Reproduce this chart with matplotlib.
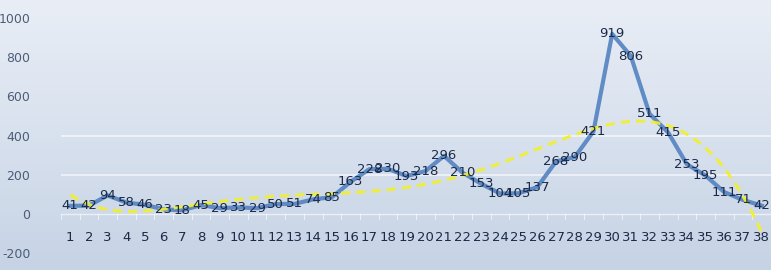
import numpy as np
import matplotlib
matplotlib.use("Agg")
import matplotlib.pyplot as plt

days   = list(range(1, 39))
counts = [41, 42, 94, 58, 46, 23, 18, 45, 29, 33, 29, 50, 51, 74, 85, 163,
          228, 230, 193, 218, 296, 210, 153, 104, 105, 137, 268, 290, 421,
          919, 806, 511, 415, 253, 195, 111, 71, 42]
yticks = [-200, 0, 200, 400, 600, 800, 1000]

LINE_C = "#5382c0"
TXT_C  = "#1c2a47"
AX_C   = "#4d5d78"

fig = plt.figure(figsize=(7.71, 2.70), dpi=100)

# background gradient, lighter at top
bg = fig.add_axes([0, 0, 1, 1], zorder=-10)
grad = np.linspace(0, 1, 256).reshape(-1, 1)
cmap = matplotlib.colors.LinearSegmentedColormap.from_list(
    "bg", ["#e9eef6", "#d8e1ee", "#c6d3e5"])
bg.imshow(grad, aspect="auto", cmap=cmap, extent=[0, 1, 0, 1], origin="upper")
bg.axis("off")

ax = fig.add_axes([0.079, 0.063, 0.921, 0.87])
ax.patch.set_alpha(0)
x = np.array(days)
ax.set_xlim(0.5, 38.5)
ax.set_ylim(-200, 1000)

# faint white gridlines
for v in [200, 400]:
    ax.axhline(v, color="white", lw=1.2, alpha=0.7, zorder=0)
ax.axhline(0, color="white", lw=1.0, alpha=0.6, zorder=0)
for xi in x:
    ax.plot([xi - 0.5, xi - 0.5], [0, -25], color="white", lw=0.8, alpha=0.6, zorder=0)

ax.plot(x, counts, color=LINE_C, lw=3.0, alpha=0.9, zorder=2, solid_joinstyle="round")

# polynomial trendline (order 6) like the spreadsheet's
coef = np.polyfit(x, counts, 6)
xs = np.linspace(1, 38, 300)
ax.plot(xs, np.polyval(coef, xs), color="#f2f02a", lw=2.2, ls=(0, (3, 2)),
        alpha=0.9, zorder=3)

for xi, v in zip(x, counts):
    ax.text(xi, v, str(v), ha="center", va="center", fontsize=9.5,
            color=TXT_C, zorder=4)

for xi in x:
    ax.text(xi, -120, str(xi), ha="center", va="center", fontsize=9.5,
            color=TXT_C, zorder=4)

ax.set_yticks(yticks)
ax.set_yticklabels([str(t) for t in yticks], fontsize=9, color=AX_C)
ax.tick_params(axis="y", length=0, pad=22)
ax.set_xticks([])
for s in ax.spines.values():
    s.set_visible(False)

fig.savefig("out.png", dpi=100)
